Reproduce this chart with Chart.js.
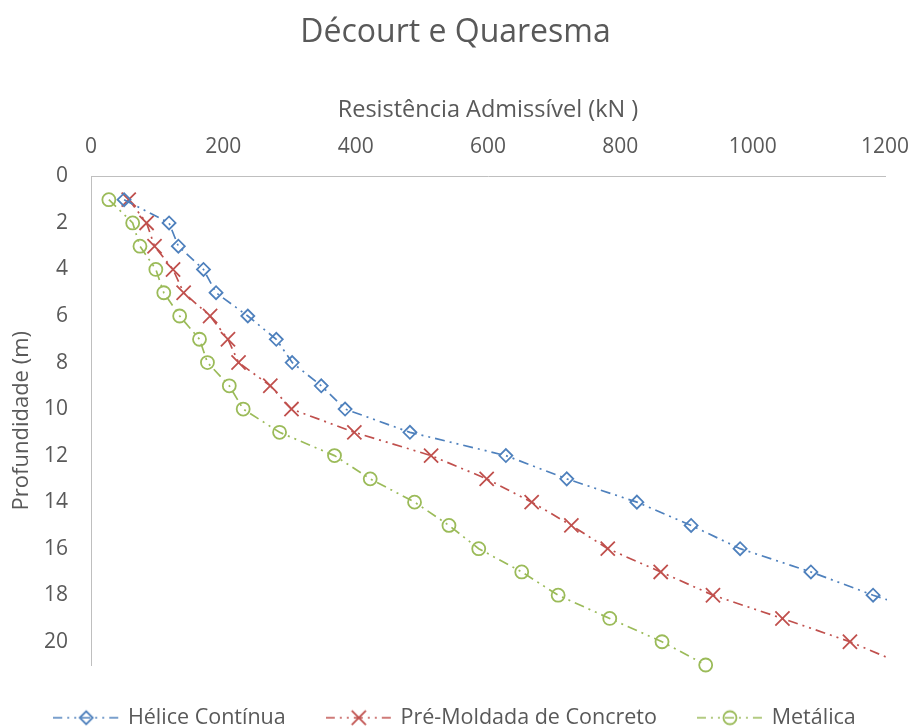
<!DOCTYPE html>
<html>
<head>
<meta charset="utf-8">
<title>Décourt e Quaresma</title>
<script src="https://cdn.jsdelivr.net/npm/chart.js@4.4.1/dist/chart.umd.min.js"></script>
<style>
  html, body { margin: 0; padding: 0; background: #ffffff; }
  #wrap { width: 911px; height: 727px; position: relative; }
</style>
</head>
<body>
<div id="wrap"><canvas id="chart"></canvas></div>
<script>
// Depth (m) of each reading
const depths = [1, 2, 3, 4, 5, 6, 7, 8, 9, 10, 11, 12, 13, 14, 15, 16, 17, 18, 19, 20, 21];

// Allowable resistance (kN) per pile type, one value per depth
const heliceContinua = [50, 118, 132, 170, 189, 237, 280, 304, 348, 384, 482, 627, 719, 825, 907, 981, 1088, 1182, 1290];
const preMoldada = [57, 84, 96, 124, 140, 180, 207, 223, 271, 303, 398, 514, 598, 666, 726, 781, 861, 940, 1045, 1147, 1230];
const metalica = [27, 63, 74, 98, 110, 134, 164, 176, 209, 230, 285, 368, 422, 489, 541, 586, 651, 706, 784, 863, 929];

const seriesNames = ['Hélice Contínua', 'Pré-Moldada de Concreto', 'Metálica'];
const xTicks = [0, 200, 400, 600, 800, 1000, 1200];
const yTicks = [0, 2, 4, 6, 8, 10, 12, 14, 16, 18, 20];

const colors = ['#4F81BD', '#C0504D', '#9BBB59'];
const markers = ['rectRot', 'crossRot', 'circle'];
const markerRadius = [6.5, 10, 6.5];
const dashPattern = [10, 5, 2, 5, 2, 5];
const textColor = '#595959';
const axisColor = '#BFBFBF';
const fontFamily = "'Open Sans', 'Noto Sans', sans-serif";

function toPoints(values) {
  return values.map((v, i) => ({ x: v, y: depths[i] }));
}

// Small line+marker samples used as legend symbols
function makeSample(color, style, radius) {
  const c = document.createElement('canvas');
  c.width = 66; c.height = 22;
  const g = c.getContext('2d');
  g.strokeStyle = color;
  g.lineWidth = 1.7;
  g.setLineDash([9, 5, 2, 5, 2, 5]);
  g.beginPath(); g.moveTo(0, 11); g.lineTo(66, 11); g.stroke();
  g.setLineDash([]);
  g.lineWidth = 1.8;
  const cx = 33, cy = 11;
  g.beginPath();
  if (style === 'rectRot') {
    g.moveTo(cx - radius, cy); g.lineTo(cx, cy - radius);
    g.lineTo(cx + radius, cy); g.lineTo(cx, cy + radius); g.closePath();
  } else if (style === 'crossRot') {
    const d = radius * Math.SQRT1_2;
    g.moveTo(cx - d, cy - d); g.lineTo(cx + d, cy + d);
    g.moveTo(cx + d, cy - d); g.lineTo(cx - d, cy + d);
  } else {
    g.arc(cx, cy, radius, 0, Math.PI * 2);
  }
  g.stroke();
  return c;
}
const samples = colors.map((col, i) => makeSample(col, markers[i], markerRadius[i]));

const seriesValues = [heliceContinua, preMoldada, metalica];
const datasets = seriesValues.map((vals, i) => ({
  label: seriesNames[i],
  data: toPoints(vals),
  borderColor: colors[i],
  backgroundColor: 'rgba(0,0,0,0)',
  borderWidth: 1.7,
  borderDash: dashPattern,
  pointStyle: markers[i],
  pointRadius: markerRadius[i],
  pointHoverRadius: markerRadius[i],
  pointBorderWidth: 1.8,
  pointBorderColor: colors[i],
  pointBackgroundColor: 'rgba(0,0,0,0)',
  tension: 0,
  fill: false,
  clip: { left: 10, top: 10, right: 2, bottom: 10 }
}));

new Chart(document.getElementById('chart'), {
  type: 'line',
  data: { datasets },
  options: {
    responsive: true,
    maintainAspectRatio: false,
    animation: false,
    events: [],
    layout: { padding: 0 },
    scales: {
      x: {
        type: 'linear',
        position: 'top',
        min: 0,
        max: 1200,
        afterBuildTicks: s => { s.ticks = xTicks.map(v => ({ value: v })); },
        // fixed band height; right gap leaves room for the "1200" label
        afterFit: s => { s.height = 116; s.paddingLeft = 0; s.paddingRight = 26; },
        grid: { display: false, drawTicks: false },
        border: { display: true, color: axisColor, width: 1 },
        ticks: {
          padding: 17,
          color: textColor,
          font: { family: fontFamily, size: 21 },
          maxRotation: 0,
          callback: v => String(v)
        },
        title: {
          display: true,
          text: 'Resistência Admissível (kN )',
          color: textColor,
          font: { family: fontFamily, size: 23.5 },
          padding: { top: 36, bottom: 0 }
        }
      },
      y: {
        type: 'linear',
        reverse: true,
        min: 0,
        max: 21,
        afterBuildTicks: s => { s.ticks = yTicks.map(v => ({ value: v })); },
        afterFit: s => { s.width = 91; s.paddingTop = 0; s.paddingBottom = 0; },
        grid: { display: false, drawTicks: false },
        border: { display: true, color: axisColor, width: 1 },
        ticks: {
          padding: 23,
          color: textColor,
          font: { family: fontFamily, size: 21 },
          callback: v => String(v)
        },
        title: {
          display: true,
          text: 'Profundidade (m)',
          color: textColor,
          font: { family: fontFamily, size: 22 },
          padding: { top: 9, bottom: 0 }
        }
      }
    },
    plugins: {
      title: {
        display: true,
        text: 'Décourt e Quaresma',
        color: textColor,
        font: { family: fontFamily, size: 32, weight: 'normal' },
        padding: { top: 14, bottom: 8 }
      },
      legend: {
        display: true,
        position: 'bottom',
        maxHeight: 62,
        labels: {
          usePointStyle: true,
          pointStyleWidth: 62,
          padding: 42,
          color: textColor,
          font: { family: fontFamily, size: 21.5, lineHeight: 1 },
          generateLabels: chart => {
            const items = Chart.defaults.plugins.legend.labels.generateLabels(chart);
            items.forEach((it, i) => { it.pointStyle = samples[i]; it.fontColor = textColor; });
            return items;
          }
        }
      },
      tooltip: { enabled: false }
    }
  }
});
</script>
</body>
</html>
